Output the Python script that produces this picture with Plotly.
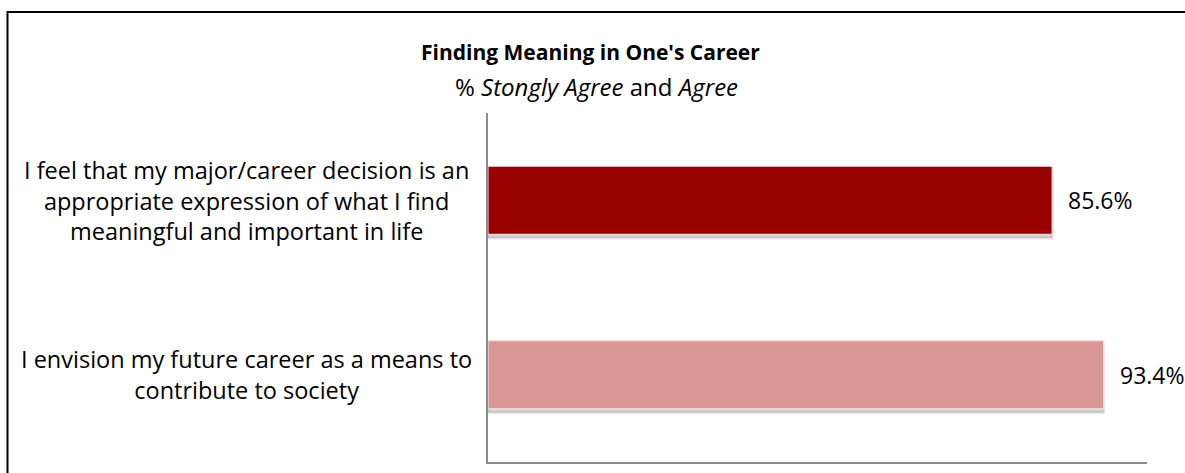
import plotly.graph_objects as go

# Survey statements and share answering "Strongly Agree" or "Agree"
statements = [
    "I feel that my major/career decision is an<br>appropriate expression of what I find<br>meaningful and important in life",
    "I envision my future career as a means to<br>contribute to society",
]
agree_pct = [85.6, 93.4]
bar_colors = ["#990000", "#d99694"]

title_text = "<b>Finding Meaning in One's Career</b>"
subtitle_text = "% <i>Stongly Agree</i> and <i>Agree</i>"

W, H = 1185, 473
L, R, T, B = 488, 38, 113, 11
pw, ph = W - L - R, H - T - B
FONT = "Open Sans, sans-serif"


def px_x(x):
    return (x - L) / pw


def px_y(y):
    return 1 - (y - T) / ph


cats = list(range(len(statements)))
bar_w = 0.39

fig = go.Figure()

# soft drop shadow under each bar
fig.add_trace(go.Bar(
    x=agree_pct, y=cats, orientation="h",
    width=bar_w, offset=-bar_w / 2 + 0.022,
    marker=dict(color="rgba(0,0,0,0.16)", line=dict(color="rgba(0,0,0,0.10)", width=3)),
    hoverinfo="skip", showlegend=False,
))
# main bars
fig.add_trace(go.Bar(
    x=agree_pct, y=cats, orientation="h",
    width=bar_w, offset=-bar_w / 2,
    marker=dict(color=bar_colors, line=dict(color="#f4e4e4", width=1)),
    showlegend=False,
))

annotations = []
# value labels to the right of each bar
for c, v in zip(cats, agree_pct):
    annotations.append(dict(
        x=v, y=c, xref="x", yref="y", text=f"{v}%", showarrow=False,
        xanchor="left", yanchor="middle", xshift=14,
        font=dict(family=FONT, size=23, color="#000000"),
    ))
# category labels, centred in the left margin
for c, s in zip(cats, statements):
    annotations.append(dict(
        x=px_x(246), y=c, xref="paper", yref="y", text=s, showarrow=False,
        xanchor="center", yanchor="middle", align="center",
        font=dict(family=FONT, size=23.5, color="#000000"),
    ))
# title and subtitle
annotations.append(dict(
    x=px_x(590), y=px_y(52), xref="paper", yref="paper", text=title_text,
    showarrow=False, xanchor="center", yanchor="middle",
    font=dict(family=FONT, size=21, color="#000000"),
))
annotations.append(dict(
    x=px_x(596), y=px_y(87), xref="paper", yref="paper", text=subtitle_text,
    showarrow=False, xanchor="center", yanchor="middle",
    font=dict(family=FONT, size=24, color="#000000"),
))

fig.update_layout(
    width=W, height=H,
    margin=dict(l=L, r=R, t=T, b=B),
    paper_bgcolor="white", plot_bgcolor="white",
    barmode="overlay",
    annotations=annotations,
    shapes=[dict(
        type="rect", xref="paper", yref="paper",
        x0=px_x(7.5), x1=px_x(W + 20), y0=px_y(H + 20), y1=px_y(12),
        line=dict(color="#000000", width=2), fillcolor="rgba(0,0,0,0)",
        layer="above",
    )],
    xaxis=dict(range=[0, 100], showgrid=False, zeroline=False, showticklabels=False,
               ticks="", showline=True, linecolor="#8c8c8c", linewidth=1.5),
    yaxis=dict(range=[1.5, -0.5], showgrid=False, zeroline=False, showticklabels=False,
               ticks="", showline=True, linecolor="#8c8c8c", linewidth=1.5),
)

fig.write_html("out.html")
